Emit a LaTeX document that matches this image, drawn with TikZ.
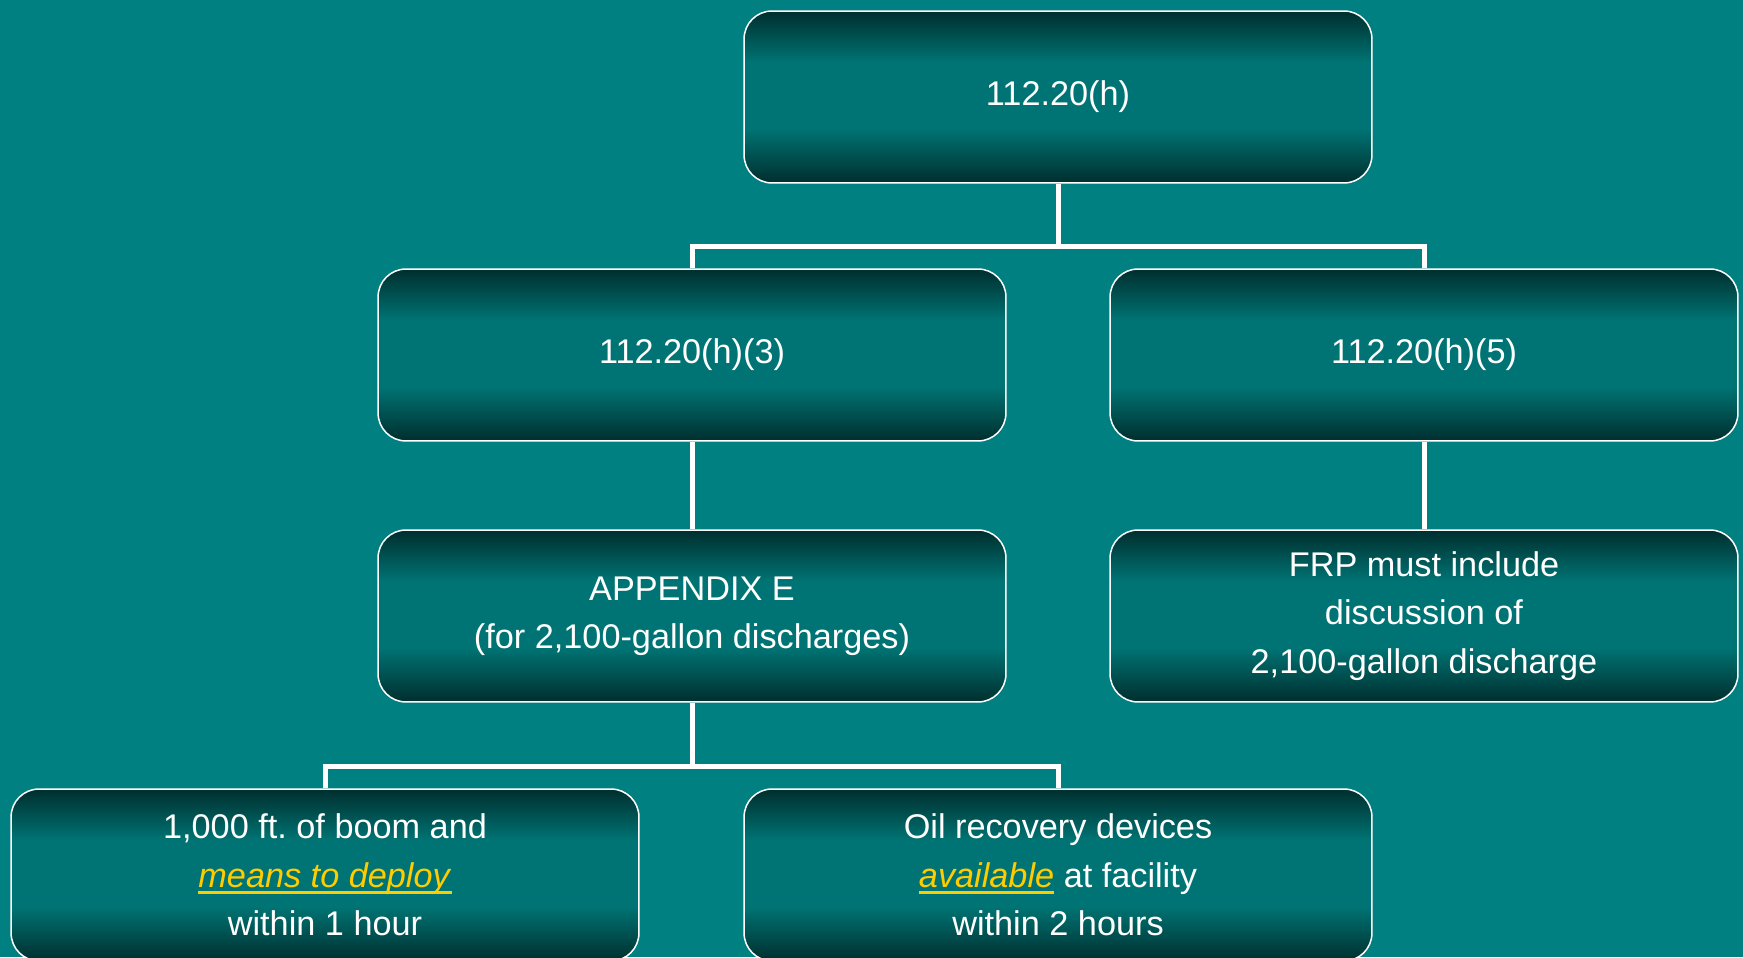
\documentclass[tikz,border=0pt]{standalone}
\usepackage{fontspec}
\setmainfont{Liberation Sans}
\definecolor{slidebg}{RGB}{0,128,128}
\definecolor{boxdark}{RGB}{0,46,46}
\definecolor{boxmid}{RGB}{0,116,116}
\definecolor{hilite}{RGB}{255,204,0}
\pgfdeclareverticalshading{boxshade}{100bp}{color(0bp)=(boxdark); color(25bp)=(boxdark);
	color(41bp)=(boxmid); color(60bp)=(boxmid); color(75bp)=(boxdark); color(100bp)=(boxdark)}
\newsavebox{\hlbox}
\newcommand{\hl}[1]{\textcolor{hilite}{\sbox{\hlbox}{\textit{#1}}\rlap{\rule[-0.2em]{\wd\hlbox}{0.085em}}\usebox{\hlbox}}}

\begin{document}
\frenchspacing
\begin{tikzpicture}[x=0.02cm,y=0.02cm,
		rule node/.style={rectangle,rounded corners=0.56cm,draw=white,line width=0.03cm,
		shading=boxshade,minimum width=12.56cm,minimum height=3.44cm,text=white,align=center,
		font=\fontsize{19.5}{27.5}\selectfont},
		conn/.style={draw=white,line width=0.1cm}]
		\fill[slidebg] (0,0) rectangle (1743,957);
		\useasboundingbox (0,0) rectangle (1743,957);
		\node[rule node] (h) at (1058,860) {112.20(h)};
		\node[rule node] (h3) at (692,602) {112.20(h)(3)};
		\node[rule node] (h5) at (1424,602) {112.20(h)(5)};
		\node[rule node] (appe) at (692,341) {APPENDIX E\\ (for 2,100-gallon discharges)};
		\node[rule node] (frp) at (1424,341) {FRP must include\\ discussion of\\ 2,100-gallon discharge};
		\node[rule node] (boom) at (325,82) {1,000 ft. of boom and\\ \hl{means to deploy}\\ within 1 hour};
		\node[rule node] (oil) at (1058,82) {Oil recovery devices\\ \hl{available} at facility\\ within 2 hours};

		\coordinate (hsplit) at (1058,710);
		\coordinate (esplit) at (692,191);
		\draw[conn] (h.south) -- (hsplit) -| (h3.north);
		\draw[conn] (hsplit) -| (h5.north);
		\draw[conn] (h3.south) -- (appe.north);
		\draw[conn] (h5.south) -- (frp.north);
		\draw[conn] (appe.south) -- (esplit) -| (boom.north);
		\draw[conn] (esplit) -| (oil.north);

		\end{tikzpicture}
\end{document}
